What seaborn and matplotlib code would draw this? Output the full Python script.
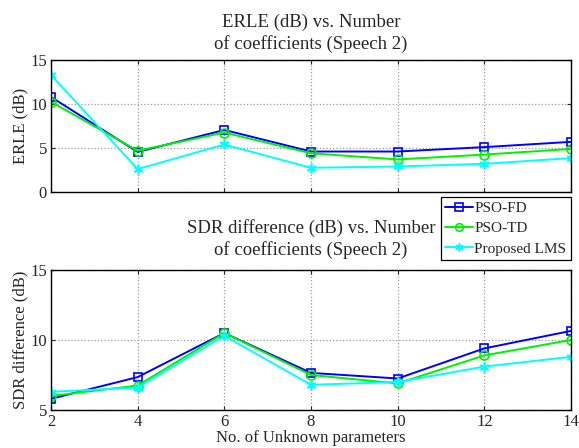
import matplotlib
matplotlib.use("Agg")
import matplotlib.pyplot as plt
import seaborn as sns
import pandas as pd

# Number of unknown parameters (filter coefficients)
n_params = [2, 4, 6, 8, 10, 12, 14]
methods = ["PSO-FD", "PSO-TD", "Proposed LMS"]

# ERLE (dB), speech 2
erle_pso_fd = [10.8, 4.55, 7.05, 4.6, 4.6, 5.1, 5.7]
erle_pso_td = [10.25, 4.7, 6.75, 4.4, 3.7, 4.25, 4.9]
erle_lms = [13.3, 2.6, 5.4, 2.75, 2.9, 3.2, 3.85]

# SDR difference (dB), speech 2
sdr_pso_fd = [5.8, 7.35, 10.5, 7.65, 7.25, 9.4, 10.65]
sdr_pso_td = [6.0, 6.75, 10.5, 7.5, 6.9, 8.9, 10.0]
sdr_lms = [6.3, 6.6, 10.3, 6.8, 7.0, 8.1, 8.8]

y_ticks_erle = [0, 5, 10, 15]
y_ticks_sdr = [5, 10, 15]

colors = {"PSO-FD": (0, 0, 1), "PSO-TD": (0, 0.95, 0), "Proposed LMS": (0, 1, 1)}
markers = {"PSO-FD": "s", "PSO-TD": "o", "Proposed LMS": (6, 2, 0)}
marker_sizes = {"PSO-FD": 6, "PSO-TD": 6.5, "Proposed LMS": 7}

sns.set_style("ticks")
plt.rcParams["font.family"] = ["Liberation Serif", "DejaVu Serif"]
plt.rcParams["mathtext.fontset"] = "stix"

fig = plt.figure(figsize=(5.79, 4.48), dpi=100)
ax1 = fig.add_axes([51 / 579, 1 - 192 / 448, 520 / 579, 132 / 448])
ax2 = fig.add_axes([51 / 579, 1 - 410 / 448, 520 / 579, 140 / 448])


def draw(ax, series, yticks, ylim):
    handles = []
    for name, vals in zip(methods, series):
        df = pd.DataFrame({"n": n_params, "value": vals})
        sns.lineplot(data=df, x="n", y="value", ax=ax, color=colors[name],
                     marker=markers[name], linewidth=1.4,
                     markersize=marker_sizes[name],
                     markerfacecolor="none", markeredgecolor=colors[name],
                     markeredgewidth=1.2, label=name, legend=False)
        handles.append(ax.get_lines()[-1])
    ax.set_xlim(2, 14)
    ax.set_ylim(*ylim)
    ax.set_xticks(n_params)
    ax.set_yticks(yticks)
    ax.grid(True, linestyle=":", color="#9a9a9a", linewidth=0.9)
    ax.tick_params(direction="in", top=True, right=True, labelsize=12,
                   length=3, width=0.8, pad=3)
    for s in ax.spines.values():
        s.set_linewidth(1.0)
        s.set_color("black")
    ax.set_xlabel("")
    return handles


draw(ax1, [erle_pso_fd, erle_pso_td, erle_lms], y_ticks_erle, (0, 15))
ax1.set_xticklabels([])
ax1.set_ylabel("ERLE (dB)", fontsize=12, labelpad=1)
ax1.set_title("ERLE (dB) vs. Number\nof coefficients (Speech 2)", fontsize=13.5,
              linespacing=1.3, pad=8)

handles = draw(ax2, [sdr_pso_fd, sdr_pso_td, sdr_lms], y_ticks_sdr, (5, 15))
ax2.set_ylabel("SDR difference (dB)", fontsize=12, labelpad=1)
ax2.set_xlabel("No. of Unknown parameters", fontsize=12, labelpad=0)
ax2.set_title("SDR difference (dB) vs. Number\nof coefficients (Speech 2)",
              fontsize=13.5, linespacing=1.3, pad=11)

leg = fig.legend(handles, methods, loc="upper right",
                 bbox_to_anchor=(571 / 579, 1 - 197 / 448), fontsize=11,
                 frameon=True, fancybox=False, framealpha=1, edgecolor="black",
                 handlelength=1.8, handletextpad=0.1, borderpad=0.3,
                 labelspacing=0.42, borderaxespad=0, markerscale=0.85)
leg.get_frame().set_linewidth(0.9)

fig.savefig("out.png", dpi=100)
